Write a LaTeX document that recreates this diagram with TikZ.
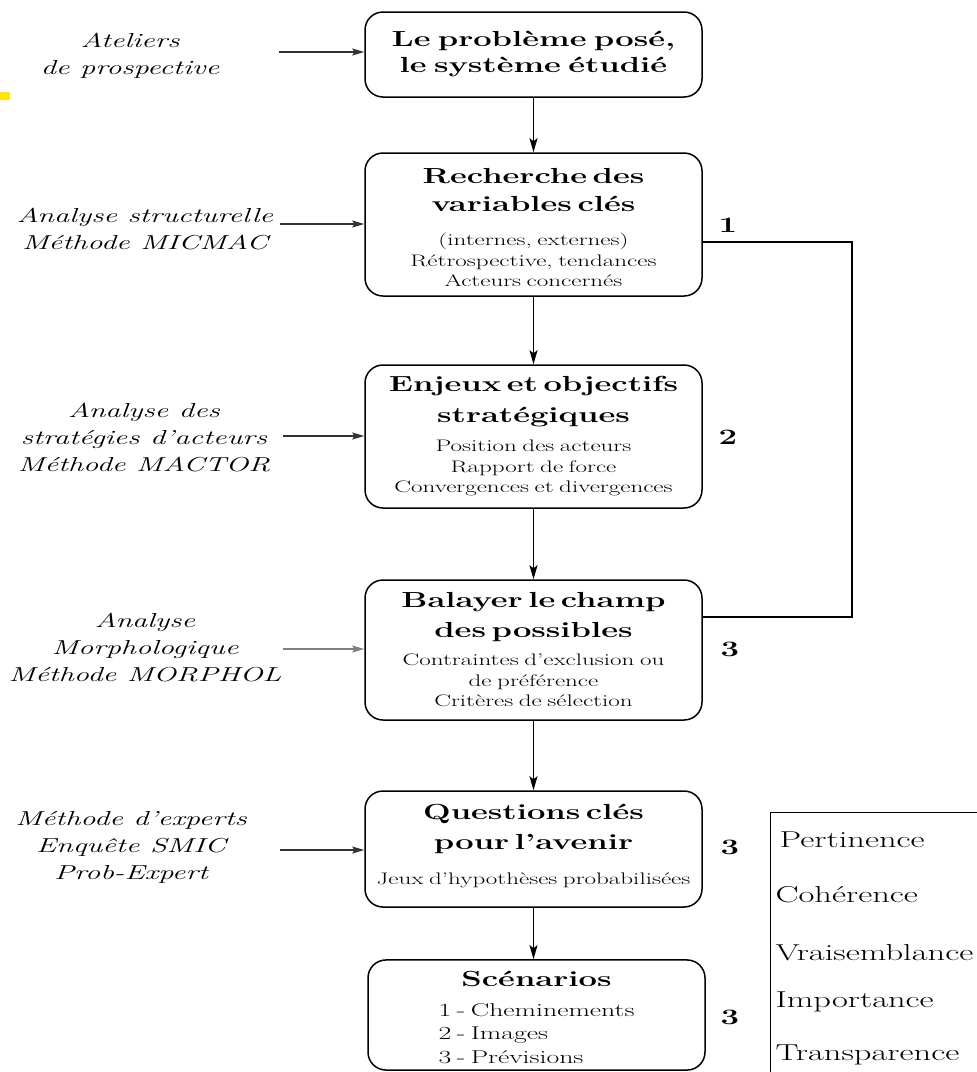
\documentclass[tikz,border=0pt]{standalone}
\usepackage{fontspec}
\setmainfont{Latin Modern Roman}[FakeStretch=1.5]
\usetikzlibrary{arrows.meta}
\newcommand{\bxtitle}{\fontsize{21.8}{28}\selectfont\bfseries}
\newcommand{\bxsub}{\fontsize{16.7}{20.5}\selectfont\mdseries}
\newcommand{\bxlist}{\fontsize{18.5}{22}\selectfont\mdseries}
\begin{document}
\begin{tikzpicture}[x=1pt,y=-1pt,
  stepbox/.style={draw, line width=1.5pt, rounded corners=18pt, minimum width=337pt, align=center, inner sep=0pt, text width=335pt, font=\bxsub},
  meth/.style={align=center, font=\fontsize{20.2}{27}\selectfont\itshape},
  num/.style={font=\fontsize{22}{24}\selectfont\bfseries},
  crit/.style={anchor=base west, font=\fontsize{23}{24}\selectfont},
  varr/.style={-{Stealth[length=14pt,width=8pt,inset=3pt]}, line width=1.7pt},
  harr/.style={-{Stealth[length=12pt,width=7pt,inset=2pt]}, line width=1.3pt, black!80},
  fb/.style={line width=1.5pt},
]
\useasboundingbox (0,0) rectangle (977,1072);
\fill[yellow!90!orange] (0,92) rectangle (10,100);

% main boxes
\node[stepbox, minimum height=85pt, font=\bxtitle] (b1) at (533.5,54.5)
  {Le problème posé,\\[-2pt] le système étudié};
\node[stepbox, minimum height=143pt] (b2) at (533.5,224.5)
  {\bxtitle\rule{0pt}{21pt}Recherche des\\ variables clés\\[14pt]
   \bxsub (internes, externes)\\ Rétrospective, tendances\\ Acteurs concernés};
\node[stepbox, minimum height=143pt] (b3) at (533.5,436.5)
  {\bxtitle Enjeux et objectifs\\[3pt] stratégiques\\[8.5pt]
   \bxsub Position des acteurs\\ Rapport de force\\ Convergences et divergences};
\node[stepbox, minimum height=140pt] (b4) at (533.5,650)
  {\bxtitle Balayer le champ\\[2pt] des possibles\\[7.5pt]
   \bxsub Contraintes d'exclusion ou\\ de préférence\\ Critères de sélection};
\node[stepbox, minimum height=116pt] (b5) at (533.5,849)
  {\bxtitle Questions clés\\[2pt] pour l'avenir\\[14.5pt]
   \bxsub Jeux d'hypothèses probabilisées\rule[-10pt]{0pt}{10pt}};
\node[stepbox, minimum height=110pt] (b6) at (536.5,1015)
  {\bxtitle\rule{0pt}{27pt}Scénarios\\[9pt]
   \bxlist\begin{tabular}[t]{@{}l@{}}1 - Cheminements\\[1.5pt] 2 - Images\\[1.5pt] 3 - Prévisions\end{tabular}};

% vertical arrows
\foreach \a/\b in {b1/b2,b2/b3,b3/b4,b4/b5}
  \draw[varr] (\a.south) -- (\b.north);
\draw[varr] (b5.south) -- (b5.south |- b6.north);

% feedback line
\coordinate (fa) at (852,242);
\coordinate (fb) at (852,617);
\draw[fb] (b2.east |- fa) -- (fa) -- (fb) -- (b4.east |- fb);

% numbers
\node[num] (n1) at (728,225) {1};
\node[num] (n2) at (728,437) {2};
\node[num] (n3) at (730,649) {3};
\node[num] (n4) at (730,847) {3};
\node[num] (n5) at (730,1017) {3};

% method labels
\node[meth] (m1) at (130,56) {Ateliers\\ de prospective};
\node[meth] (m2) at (145,229) {Analyse structurelle\\ Méthode MICMAC};
\node[meth] (m3) at (144,437) {Analyse des\\ stratégies d'acteurs\\ Méthode MACTOR};
\node[meth] (m4) at (145,647) {Analyse\\ Morphologique\\ Méthode MORPHOL};
\node[meth] (m5) at (131,847) {Méthode d'experts\\ Enquête SMIC\\ Prob-Expert};

\coordinate (s1) at (279,52);
\coordinate (s2) at (280,224);
\coordinate (s3) at (283,436);
\coordinate (s4) at (283,649);
\coordinate (s5) at (280,850);
\draw[harr] (s1) -- (s1 -| b1.west);
\draw[harr] (s2) -- (s2 -| b2.west);
\draw[harr] (s3) -- (s3 -| b3.west);
\draw[harr, gray] (s4) -- (s4 -| b4.west);
\draw[harr] (s5) -- (s5 -| b5.west);

% criteria box
\node[draw, line width=1.4pt, anchor=north west, minimum width=240pt, minimum height=270pt, inner sep=0pt] (cb) at (770,812) {};
\node[crit] (c1) at (776,847) {Pertinence};
\node[crit] (c2) at (772,902) {Cohérence};
\node[crit] (c3) at (772,960) {Vraisemblance};
\node[crit] (c4) at (772,1007) {Importance};
\node[crit] (c5) at (772,1060) {Transparence};
\end{tikzpicture}
\end{document}
